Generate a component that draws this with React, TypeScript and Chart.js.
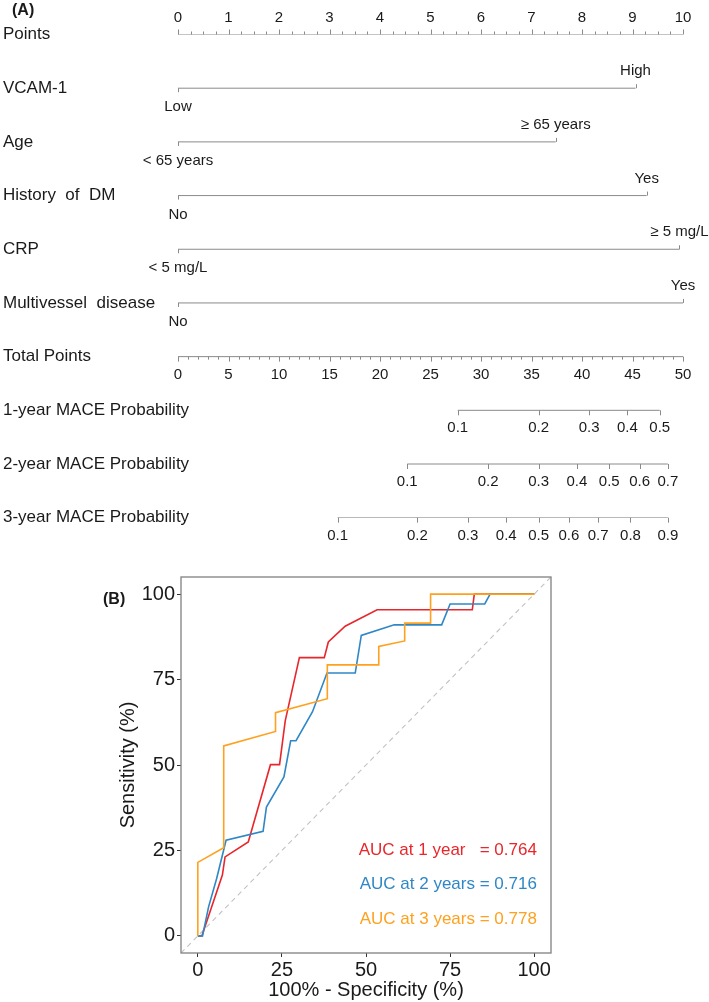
import React, { useEffect, useRef } from "react";
import { Chart, registerables } from "chart.js";

Chart.register(...registerables);

const FONT = 'Arial, "Liberation Sans", Helvetica, sans-serif';

// ---------- Nomogram (A) data ----------
const rowLabels = [
  "Points",
  "VCAM‑1",
  "Age",
  "History  of  DM",
  "CRP",
  "Multivessel  disease",
  "Total Points",
  "1-year MACE Probability",
  "2-year MACE Probability",
  "3-year MACE Probability",
];
const pointsTicks = [0, 1, 2, 3, 4, 5, 6, 7, 8, 9, 10];
const predictorLowLabels = ["Low", "< 65 years", "No", "< 5 mg/L", "No"];
const predictorHighLabels = ["High", "≥ 65 years", "Yes", "≥ 5 mg/L", "Yes"];
const predictorHighPoints = [9.06, 7.48, 9.28, 9.93, 10.0];
const totalPointsTicks = [0, 5, 10, 15, 20, 25, 30, 35, 40, 45, 50];
const prob1yValues = [0.1, 0.2, 0.3, 0.4, 0.5];
const prob1yPoints = [27.7, 35.7, 40.7, 44.5, 47.7];
const prob2yValues = [0.1, 0.2, 0.3, 0.4, 0.5, 0.6, 0.7];
const prob2yPoints = [22.7, 30.7, 35.7, 39.5, 42.7, 45.7, 48.5];
const prob3yValues = [0.1, 0.2, 0.3, 0.4, 0.5, 0.6, 0.7, 0.8, 0.9];
const prob3yPoints = [15.8, 23.7, 28.7, 32.5, 35.7, 38.7, 41.6, 44.8, 48.5];

// ---------- ROC (B) data ----------
const roc1yFpr = [0, 1.2, 7.3, 8.1, 15.0, 21.6, 24.3, 26.0, 30.2, 37.6, 38.8, 43.8, 53.3, 81.6, 82.2, 100];
const roc1ySens = [0, 0, 17.8, 23.1, 27.5, 50.1, 50.1, 63.0, 81.4, 81.4, 86.0, 90.6, 95.4, 95.4, 100, 100];
const roc2yFpr = [0, 1.4, 3.2, 5.6, 8.4, 19.4, 20.4, 25.6, 27.6, 29.2, 34.1, 38.4, 46.8, 48.6, 58.4, 72.5, 75.0, 85.3, 86.9, 100];
const roc2ySens = [0, 0, 8.5, 16.8, 28.0, 30.6, 37.7, 46.5, 57.1, 57.1, 65.6, 76.9, 76.9, 87.9, 91.0, 91.0, 97.1, 97.1, 100, 100];
const roc3yFpr = [0, 0, 7.7, 7.7, 23.1, 23.1, 38.5, 38.5, 53.8, 53.8, 61.5, 61.5, 69.2, 69.2, 100];
const roc3ySens = [0, 21.5, 25.8, 55.6, 59.8, 65.3, 69.4, 79.3, 79.3, 84.7, 86.3, 91.5, 91.5, 100, 100];
const rocTicks = [0, 25, 50, 75, 100];
const aucLabels = ["AUC at 1 year   = 0.764", "AUC at 2 years = 0.716", "AUC at 3 years = 0.778"];

const RED = "#E8262B";
const BLUE = "#2F87C6";
const ORANGE = "#FFA11F";
const TEXT = "#1a1a1a";
const NOMO_GREY = "#8a8a8a";

function Nomogram() {
  const ref = useRef<HTMLCanvasElement>(null);
  useEffect(() => {
    const canvas = ref.current!;
    const base = {
      showLine: true,
      borderColor: NOMO_GREY,
      borderWidth: 1,
      pointRadius: 0,
      yAxisID: "y",
    };
    const datasets: any[] = [];
    datasets.push({ ...base, xAxisID: "xp", data: [{ x: pointsTicks[0], y: 0 }, { x: pointsTicks[pointsTicks.length - 1], y: 0 }] });
    predictorHighPoints.forEach((hp, i) => {
      datasets.push({ ...base, xAxisID: "xp", data: [{ x: 0, y: i + 1 }, { x: hp, y: i + 1 }] });
    });
    datasets.push({ ...base, xAxisID: "xt", data: [{ x: totalPointsTicks[0], y: 6 }, { x: totalPointsTicks[totalPointsTicks.length - 1], y: 6 }] });
    [prob1yPoints, prob2yPoints, prob3yPoints].forEach((pts, k) => {
      datasets.push({ ...base, xAxisID: "xt", data: [{ x: pts[0], y: 7 + k }, { x: pts[pts.length - 1], y: 7 + k }] });
    });

    const nomoPlugin = {
      id: "nomoDraw",
      afterDatasetsDraw(chart: any) {
        const { ctx } = chart;
        const xp = chart.scales.xp;
        const xt = chart.scales.xt;
        const y = chart.scales.y;
        ctx.save();
        ctx.strokeStyle = NOMO_GREY;
        ctx.lineWidth = 1;
        const vline = (x: number, y0: number, y1: number) => {
          const xx = Math.round(x) + 0.5;
          ctx.beginPath();
          ctx.moveTo(xx, y0);
          ctx.lineTo(xx, y1);
          ctx.stroke();
        };
        ctx.fillStyle = TEXT;
        ctx.textAlign = "center";
        ctx.textBaseline = "middle";
        ctx.font = `15px ${FONT}`;

        // Points axis
        const y0 = y.getPixelForValue(0);
        for (let k = 0; k <= 40; k++) {
          const v = k * 0.25;
          vline(xp.getPixelForValue(v), y0, y0 - (k % 4 === 0 ? 5 : 3));
        }
        pointsTicks.forEach((v) => ctx.fillText(String(v), xp.getPixelForValue(v), y0 - 17));

        // Predictors
        predictorHighPoints.forEach((hp, i) => {
          const yy = y.getPixelForValue(i + 1);
          const xl = xp.getPixelForValue(0);
          const xh = xp.getPixelForValue(hp);
          vline(xl, yy, yy + 4);
          vline(xh, yy, yy - 4);
          ctx.fillText(predictorLowLabels[i], xl, yy + 19);
          ctx.fillText(predictorHighLabels[i], xh, yy - 17);
        });

        // Total points
        const yt = y.getPixelForValue(6);
        for (let v = 0; v <= 50; v++) {
          vline(xt.getPixelForValue(v), yt, yt + (v % 5 === 0 ? 5 : 3));
        }
        totalPointsTicks.forEach((v) => ctx.fillText(String(v), xt.getPixelForValue(v), yt + 18));

        // Probabilities
        const probs = [
          [prob1yValues, prob1yPoints],
          [prob2yValues, prob2yPoints],
          [prob3yValues, prob3yPoints],
        ];
        probs.forEach(([vals, pts], k) => {
          const yy = y.getPixelForValue(7 + k);
          pts.forEach((p, j) => {
            const xx = xt.getPixelForValue(p);
            vline(xx, yy, yy + 5);
            ctx.fillText(vals[j].toFixed(1), xx, yy + 18);
          });
        });

        // Row labels
        ctx.textAlign = "left";
        ctx.font = `17px ${FONT}`;
        rowLabels.forEach((l, i) => ctx.fillText(l, 3, y.getPixelForValue(i)));

        ctx.font = `bold 16px ${FONT}`;
        ctx.fillText("(A)", 12, 11);
        ctx.restore();
      },
    };

    const chart = new Chart(canvas, {
      type: "scatter",
      data: { datasets },
      options: {
        animation: false,
        responsive: false,
        devicePixelRatio: 1,
        layout: { padding: { left: 178, right: 26, top: 34.5, bottom: 42.3 } },
        plugins: { legend: { display: false }, tooltip: { enabled: false } },
        scales: {
          xp: { type: "linear", axis: "x", min: 0, max: 10, display: false },
          xt: { type: "linear", axis: "x", min: 0, max: 50, display: false },
          y: { type: "linear", min: 0, max: 9, reverse: true, display: false },
        },
      } as any,
      plugins: [nomoPlugin],
    });
    return () => chart.destroy();
  }, []);
  return <canvas ref={ref} width={709} height={560} style={{ position: "absolute", left: 0, top: 0, width: 709, height: 560 }} />;
}

function Roc() {
  const ref = useRef<HTMLCanvasElement>(null);
  useEffect(() => {
    const canvas = ref.current!;
    const toPts = (xs: number[], ys: number[]) => xs.map((x, i) => ({ x, y: ys[i] }));
    const line = { showLine: true, pointRadius: 0, borderWidth: 1.6, tension: 0 };
    const rocPlugin = {
      id: "rocDraw",
      afterDatasetsDraw(chart: any) {
        const { ctx, chartArea } = chart;
        const xs = chart.scales.x;
        const ys = chart.scales.y;
        ctx.save();
        ctx.strokeStyle = "#808080";
        ctx.lineWidth = 1.3;
        ctx.strokeRect(chartArea.left, chartArea.top, chartArea.right - chartArea.left, chartArea.bottom - chartArea.top);
        ctx.font = `17px ${FONT}`;
        ctx.textAlign = "right";
        ctx.textBaseline = "middle";
        const cols = [RED, BLUE, ORANGE];
        const ypos = [25, 15, 5];
        aucLabels.forEach((t, i) => {
          ctx.fillStyle = cols[i];
          ctx.fillText(t, xs.getPixelForValue(100.8), ys.getPixelForValue(ypos[i]));
        });
        ctx.fillStyle = TEXT;
        ctx.textAlign = "left";
        ctx.font = `bold 16px ${FONT}`;
        ctx.fillText("(B)", 103, 40);
        ctx.restore();
      },
    };
    const axisCommon = {
      type: "linear",
      min: -5,
      max: 105,
      border: { display: false },
      grid: { drawOnChartArea: false, drawTicks: true, tickLength: 4, color: "#333333", lineWidth: 1 },
    };
    const chart = new Chart(canvas, {
      type: "scatter",
      data: {
        datasets: [
          { ...line, data: toPts([-5, 105], [-5, 105]), borderColor: "#c2c2c2", borderWidth: 1.1, borderDash: [5, 4], order: 4 },
          { ...line, data: toPts(roc1yFpr, roc1ySens), borderColor: RED, order: 3 },
          { ...line, data: toPts(roc2yFpr, roc2ySens), borderColor: BLUE, order: 2 },
          { ...line, data: toPts(roc3yFpr, roc3ySens), borderColor: ORANGE, order: 1 },
        ],
      },
      options: {
        animation: false,
        responsive: false,
        devicePixelRatio: 1,
        layout: { padding: { left: 0, right: 158, top: 17, bottom: 0 } },
        plugins: { legend: { display: false }, tooltip: { enabled: false } },
        scales: {
          x: {
            ...axisCommon,
            afterBuildTicks: (s: any) => {
              s.ticks = rocTicks.map((v) => ({ value: v }));
            },
            afterFit: (s: any) => {
              s.height = 49;
            },
            ticks: { font: { family: FONT, size: 20 }, color: TEXT, padding: 1, maxRotation: 0, autoSkip: false },
            title: { display: true, text: "100% - Specificity (%)", font: { family: FONT, size: 20 }, color: TEXT, padding: { top: 0, bottom: 0 } },
          },
          y: {
            ...axisCommon,
            afterBuildTicks: (s: any) => {
              s.ticks = rocTicks.map((v) => ({ value: v }));
            },
            afterFit: (s: any) => {
              s.width = 181;
            },
            ticks: { font: { family: FONT, size: 20 }, color: TEXT, padding: 2, autoSkip: false },
            title: { display: true, text: "Sensitivity (%)", font: { family: FONT, size: 20 }, color: TEXT, padding: { top: 116, bottom: 0 } },
          },
        },
      } as any,
      plugins: [rocPlugin],
    });
    return () => chart.destroy();
  }, []);
  return <canvas ref={ref} width={709} height={442} style={{ position: "absolute", left: 0, top: 560, width: 709, height: 442 }} />;
}

export default function App() {
  return (
    <div style={{ position: "absolute", left: 0, top: 0, width: 709, height: 1002, background: "#ffffff" }}>
      <Nomogram />
      <Roc />
    </div>
  );
}
